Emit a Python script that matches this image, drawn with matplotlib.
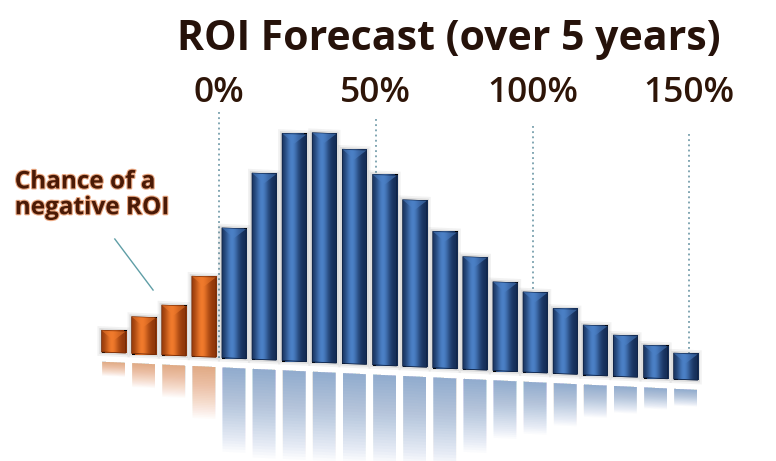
import matplotlib.pyplot as plt
import matplotlib.transforms as mtransforms
import matplotlib.patheffects as pe
from matplotlib.patches import Rectangle, Polygon
from matplotlib.colors import to_rgb
import numpy as np

# chance of each ROI outcome bin (%), negative bins first
prob_neg = [1.0, 1.7, 2.3, 3.7]
prob_pos = [6.0, 8.6, 10.5, 10.6, 9.9, 8.8, 7.7, 6.3, 5.2, 4.1, 3.7, 3.0, 2.3, 1.9, 1.5, 1.2]
roi_ticks = [0, 50, 100, 150]
tick_labels = ['0%', '50%', '100%', '150%']
bin_width = 9.6   # ROI % per bar

title = 'ROI Forecast (over 5 years)'
note = 'Chance of a\nnegative ROI'

font = ['Open Sans', 'DejaVu Sans']
text_col = '#2e1508'

fig = plt.figure(figsize=(7.76, 4.61), dpi=100)
ax = fig.add_axes([0, 0, 1, 1])
ax.axis('off')

# slight downward tilt of the baseline to the right (perspective look)
tilt = mtransforms.Affine2D(np.array([[1, 0, 0], [-0.00687, 1, 0], [0, 0, 1]])) + ax.transData

neg_x = [-bin_width * (len(prob_neg) - i) + bin_width / 2 for i in range(len(prob_neg))]
pos_x = [bin_width * i + bin_width / 2 for i in range(len(prob_pos))]

bw = 0.8 * bin_width
gap = 0.45
t = np.linspace(0, 1, 64)
shine = np.exp(-((t - 0.4) / 0.28) ** 2)


def draw_bar(x, h, dark, light):
    dark, light = np.array(to_rgb(dark)), np.array(to_rgb(light))
    x0, x1 = x - bw / 2, x + bw / 2

    # soft shadow round the bar
    for px, py, a in [(1.3, 0.19, 0.06), (0.7, 0.1, 0.10)]:
        ax.add_patch(Rectangle((x0 - px, -py), bw + 2 * px, h + 2 * py, transform=tilt,
                               facecolor='#303030', edgecolor='none', alpha=a, zorder=2))

    # body with a horizontal shine
    rgb = dark + (light - dark) * shine[:, None]
    body = Rectangle((x0, 0), bw, h, transform=tilt, facecolor='none',
                     edgecolor=dark * 0.8, lw=0.6, zorder=4)
    ax.add_patch(body)
    im = ax.imshow(rgb[None, :, :], extent=[x0, x1, 0, h], aspect='auto',
                   interpolation='bilinear', transform=tilt, zorder=3)
    im.set_clip_path(body)

    # bevelled top
    ax.add_patch(Polygon([(x0, h), (x1, h), (x, h - 0.45)], closed=True, transform=tilt,
                         facecolor=light, edgecolor='none', alpha=0.55, zorder=4))

    # faded reflection: nested strips sharing the top edge, so the
    # opacity builds up towards the baseline
    L = min(0.65 * h, 4.1)
    n = 30
    mid = dark + (light - dark) * 0.8
    for k in range(1, n + 1):
        ax.add_patch(Rectangle((x0 + 0.2, -gap - L * k / n), bw - 0.4, L * k / n,
                               transform=tilt, facecolor=mid, edgecolor='none',
                               alpha=0.024, zorder=2))


# dotted guide lines at the ROI ticks
for r in roi_ticks:
    ax.plot([r, r], [0, 11.5], ls=(0, (1.2, 2.2)), color='#5f8e9e', lw=1.1,
            transform=tilt, zorder=1)

for x, h in zip(neg_x, prob_neg):
    draw_bar(x, h, '#8e3508', '#f07a2c')
for x, h in zip(pos_x, prob_pos):
    draw_bar(x, h, '#142c55', '#4b80c6')

for r, lbl in zip(roi_ticks, tick_labels):
    ax.text(r, 11.81, lbl, ha='center', va='baseline', fontsize=25.5, fontweight='semibold',
            family=font, color=text_col)

ax.text(0.578, 1 - 50 / 461, title, transform=ax.transAxes, ha='center', va='baseline',
        fontsize=29.5, fontweight='bold', family=font, color='#26120a')

ax.text(-65.1, 7.5, note, ha='left', va='center', fontsize=17.5, fontweight='bold',
        family=font, color='#4a1a06', linespacing=1.1,
        path_effects=[pe.withStroke(linewidth=1.6, foreground='#eaa882')])
ax.plot([-33.2, -21.0], [5.48, 3.12], color='#5f9ea6', lw=1.0)

ax.set_xlim(-69.8, 177.6)
ax.set_ylim(-4.785, 16.53)

fig.savefig('out.png', dpi=100, facecolor='white')
